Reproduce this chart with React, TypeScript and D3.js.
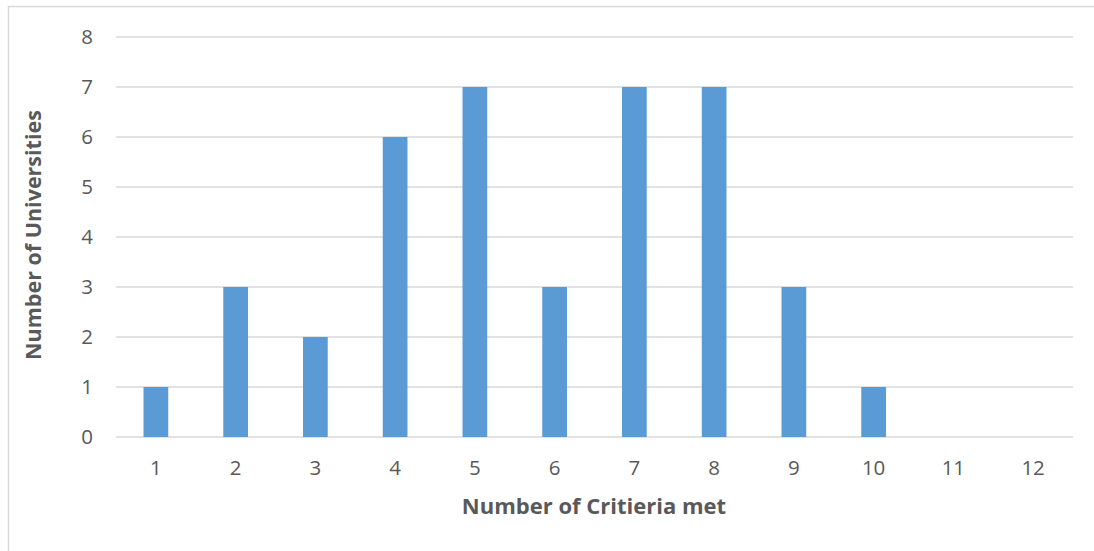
import React from "react";
import * as d3 from "d3";

const categories: string[] = ["1","2","3","4","5","6","7","8","9","10","11","12"];
const values: number[] = [1,3,2,6,7,3,7,7,3,1,0,0];
const yTicks: number[] = [0,1,2,3,4,5,6,7,8];
const xTitle = "Number of Critieria met";
const yTitle = "Number of Universities";

export default function App() {
  const W = 1094, H = 551;
  const left = 116, right = 1073, top = 37, bottom = 437;
  const x = d3.scaleBand<string>().domain(categories).range([left, right]).paddingInner(0.69).paddingOuter(0.345);
  const y = d3.scaleLinear().domain([0, 8]).range([bottom, top]);
  const font = "'Open Sans', sans-serif";
  return (
    <svg width={W} height={H} style={{ position: "absolute", left: 0, top: 0 }} fontFamily={font}>
      <rect x={0} y={0} width={W} height={H} fill="#fff" />
      <rect x={8.5} y={6.5} width={W + 10} height={H + 10} fill="none" stroke="#d9d9d9" strokeWidth={1.5} />
      {yTicks.map((t) => (
        <g key={t}>
          <line x1={left} x2={right} y1={y(t)} y2={y(t)} stroke="#d9d9d9" strokeWidth={1.5} />
          <text x={93} y={y(t)} dy="0.36em" textAnchor="end" fontSize={20.5} fill="#595959">{t}</text>
        </g>
      ))}
      {categories.map((c, i) => (
        <g key={c}>
          {values[i] > 0 && (
            <rect x={x(c)} y={y(values[i])} width={x.bandwidth()} height={y(0) - y(values[i])} fill="#5b9bd5" />
          )}
          <text x={(x(c) as number) + x.bandwidth() / 2} y={468} dy="0.36em" textAnchor="middle" fontSize={20.5} fill="#595959">{c}</text>
        </g>
      ))}
      <text x={(left + right) / 2 - 0.5} y={506} dy="0.36em" textAnchor="middle" fontSize={22} fontWeight="bold" fill="#595959">{xTitle}</text>
      <text transform={`translate(33,${235}) rotate(-90)`} dy="0.36em" textAnchor="middle" fontSize={21.5} fontWeight="bold" fill="#595959">{yTitle}</text>
    </svg>
  );
}
